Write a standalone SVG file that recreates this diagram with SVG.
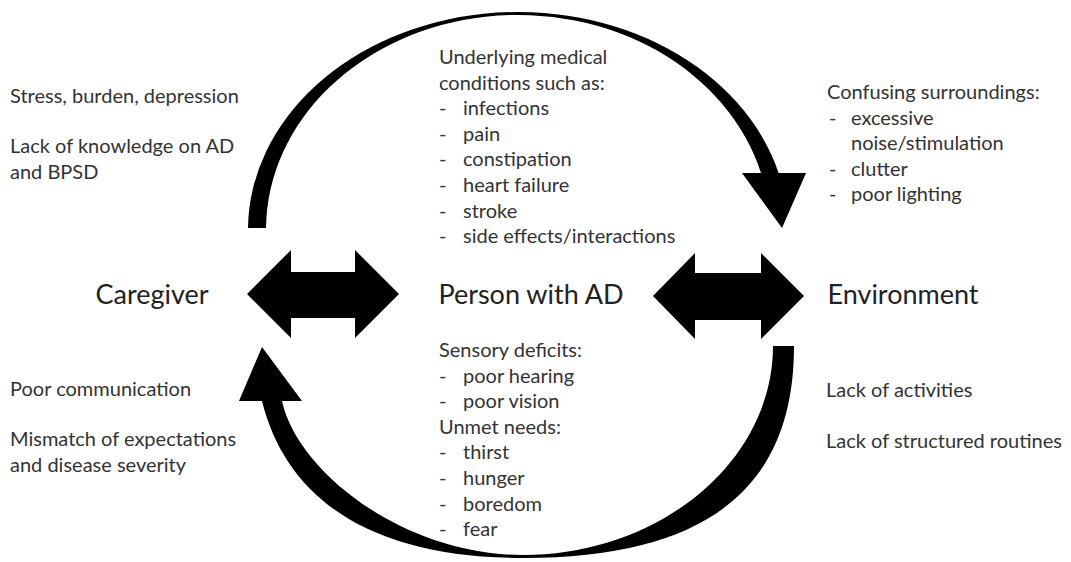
<svg xmlns="http://www.w3.org/2000/svg" width="1071" height="562" viewBox="0 0 1071 562">
<style>
  text { font-family: Lato, "Open Sans", "Liberation Sans", sans-serif; fill: #333333; }
  .s { font-size: 20px; }
  .big { font-size: 27px; fill: #222222; text-anchor: middle; }
  .shape { fill: #000; stroke: none; }
</style>
<rect width="1071" height="562" fill="#fff"/>
<g id="connectors">
  <path id="top-arc" class="shape" d="M 248,228 A 270 218 0 0 1 778.6,173 L 806,173 L 782,228 L 742,173 L 761,173 A 252 215 0 0 0 266,228 Z"/>
  <path id="bottom-arc" class="shape" d="M 794,346 C 794,484 712,558 523,558 C 373,558 287,501 262,401 L 239,401 L 262,347 L 302,401 L 282,401 C 297,471 403,555 523,555 C 660,555 773,461 773,346 Z"/>
  <path id="left-double" class="shape" d="M 247,294 L 291,250 L 291,272 L 355,272 L 355,250 L 399,294 L 355,338 L 355,318 L 291,318 L 291,338 Z"/>
  <path id="right-double" class="shape" d="M 653,296 L 695,253 L 695,273 L 761,273 L 761,253 L 804,296 L 761,339 L 761,320 L 695,320 L 695,339 Z"/>
</g>
<g id="caregiver">
  <text class="big" x="152" y="304">Caregiver</text>
</g>
<g id="person">
  <text class="big" x="531" y="304">Person with AD</text>
</g>
<g id="environment">
  <text class="big" x="903" y="304">Environment</text>
</g>
<g id="medical">
  <text class="s" x="439" y="64">Underlying medical</text>
  <text class="s" x="439" y="89.6">conditions such as:</text>
  <text class="s" x="439" y="115.2">-</text><text class="s" x="463" y="115.2">infections</text>
  <text class="s" x="439" y="140.8">-</text><text class="s" x="463" y="140.8">pain</text>
  <text class="s" x="439" y="166.4">-</text><text class="s" x="463" y="166.4">constipation</text>
  <text class="s" x="439" y="192">-</text><text class="s" x="463" y="192">heart failure</text>
  <text class="s" x="439" y="217.6">-</text><text class="s" x="463" y="217.6">stroke</text>
  <text class="s" x="439" y="243.2">-</text><text class="s" x="463" y="243.2">side effects/interactions</text>
</g>
<g id="sensory">
  <text class="s" x="439" y="357">Sensory deficits:</text>
  <text class="s" x="439" y="382.6">-</text><text class="s" x="463" y="382.6">poor hearing</text>
  <text class="s" x="439" y="408.2">-</text><text class="s" x="463" y="408.2">poor vision</text>
  <text class="s" x="439" y="433.8">Unmet needs:</text>
  <text class="s" x="439" y="459.4">-</text><text class="s" x="463" y="459.4">thirst</text>
  <text class="s" x="439" y="485">-</text><text class="s" x="463" y="485">hunger</text>
  <text class="s" x="439" y="510.6">-</text><text class="s" x="463" y="510.6">boredom</text>
  <text class="s" x="439" y="536.2">-</text><text class="s" x="463" y="536.2">fear</text>
</g>
<g id="caregiver-factors">
  <text class="s" x="10" y="103">Stress, burden, depression</text>
  <text class="s" x="10" y="153">Lack of knowledge on AD</text>
  <text class="s" x="10" y="178.6">and BPSD</text>
  <text class="s" x="10" y="396">Poor communication</text>
  <text class="s" x="10" y="446">Mismatch of expectations</text>
  <text class="s" x="10" y="471.6">and disease severity</text>
</g>
<g id="environment-factors">
  <text class="s" x="827" y="99">Confusing surroundings:</text>
  <text class="s" x="829" y="124.6">-</text><text class="s" x="851" y="124.6">excessive</text>
  <text class="s" x="851" y="150.2">noise/stimulation</text>
  <text class="s" x="829" y="175.8">-</text><text class="s" x="851" y="175.8">clutter</text>
  <text class="s" x="829" y="201.4">-</text><text class="s" x="851" y="201.4">poor lighting</text>
  <text class="s" x="826" y="397">Lack of activities</text>
  <text class="s" x="826" y="448">Lack of structured routines</text>
</g>
</svg>
